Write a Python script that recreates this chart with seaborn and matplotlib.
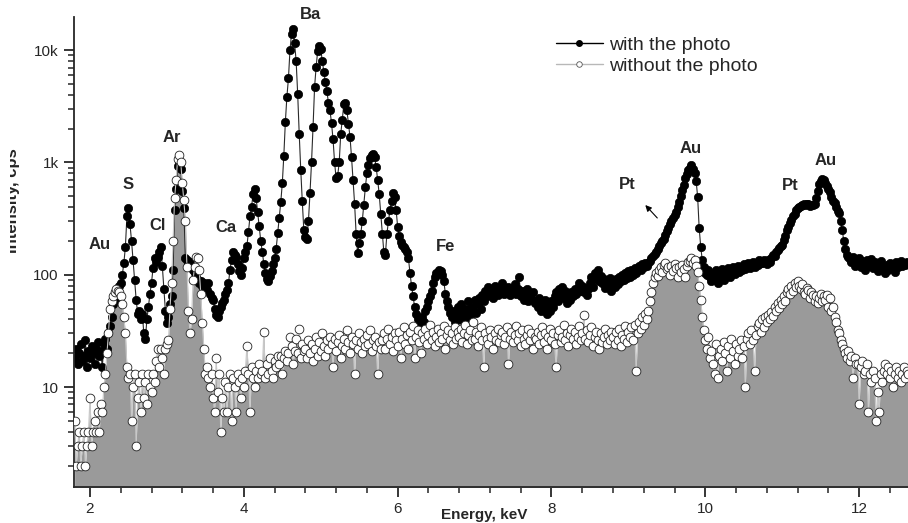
import numpy as np
import pandas as pd
import matplotlib
matplotlib.use("Agg")
import matplotlib.pyplot as plt
import seaborn as sns
from matplotlib.ticker import FixedLocator, FixedFormatter, LogLocator, MultipleLocator, NullFormatter
from matplotlib.lines import Line2D
from matplotlib.patches import Rectangle

# channel energies, keV (20 eV steps from 1.80 to 12.64)
energy = np.round(1.80 + 0.02 * np.arange(543), 2)

# intensity, cps - spectrum taken with the photo
with_photo = [
    18, 22, 16, 20, 24, 17, 19, 26, 15, 21,
    18, 23, 20, 16, 22, 25, 19, 21, 15, 24,
    27, 22, 30, 35, 42, 55, 60, 65, 72, 80,
    85, 100, 126, 177, 330, 393, 280, 200, 135, 90,
    60, 45, 48, 40, 45, 30, 27, 40, 52, 68,
    # 2.80
    85, 115, 140, 130, 145, 160, 176, 120, 75, 48,
    37, 42, 55, 65, 110, 380, 580, 920, 1020, 880,
    560, 390, 140, 135, 128, 130, 118, 110, 104, 95,
    90, 84, 88, 80, 84, 75, 73, 84, 68, 62,
    60, 50, 44, 42, 48, 52, 56, 60, 68, 73,
    # 3.80
    84, 110, 135, 160, 150, 145, 125, 108, 100, 115,
    140, 160, 180, 240, 330, 400, 520, 580, 480, 360,
    270, 200, 160, 125, 104, 92, 88, 98, 108, 125,
    140, 170, 235, 320, 440, 650, 1150, 2300, 3850, 5600,
    10000, 14000, 15300, 11500, 8000, 4100, 1800, 860, 450, 250,
    # 4.80
    215, 210, 300, 530, 1000, 2080, 4700, 7100, 9800, 10800,
    10200, 8000, 6400, 5200, 4300, 3400, 2900, 2240, 1600, 1000,
    720, 760, 1000, 1800, 2400, 3300, 3400, 2900, 2200, 1700,
    1120, 700, 430, 230, 155, 190, 230, 300, 420, 600,
    800, 950, 1100, 1160, 1180, 1120, 910, 700, 520, 350,
    # 5.80
    230, 160, 150, 230, 300, 376, 450, 530, 495, 376,
    267, 220, 195, 185, 178, 170, 160, 140, 104, 80,
    64, 52, 45, 40, 35, 39, 42, 38, 48, 52,
    58, 64, 72, 84, 95, 103, 106, 110, 108, 100,
    88, 68, 58, 52, 46, 42, 48, 38, 45, 52,
    # 6.80
    40, 55, 45, 38, 50, 44, 58, 42, 52, 48,
    60, 46, 55, 62, 50, 66, 58, 72, 64, 78,
    68, 74, 62, 80, 70, 66, 76, 72, 84, 68,
    74, 70, 78, 66, 72, 76, 82, 68, 74, 95,
    64, 72, 60, 68, 74, 58, 66, 62, 70, 56,
    # 7.80
    58, 52, 62, 48, 56, 50, 60, 45, 54, 48,
    58, 52, 64, 70, 58, 74, 66, 78, 62, 72,
    56, 66, 60, 70, 64, 74, 68, 76, 84, 72,
    80, 70, 76, 66, 74, 84, 96, 78, 104, 92,
    110, 88, 98, 84, 92, 76, 88, 80, 94, 72,
    # 8.80
    86, 78, 92, 82, 96, 88, 100, 90, 104, 94,
    108, 96, 110, 100, 114, 104, 112, 120, 110, 124,
    118, 128, 120, 126, 132, 140, 148, 152, 160, 170,
    180, 190, 200, 210, 225, 245, 260, 280, 300, 320,
    340, 360, 400, 440, 500, 570, 630, 720, 790, 860,
    # 9.80
    900, 950, 880, 800, 690, 495, 260, 178, 135, 118,
    104, 100, 110, 95, 88, 102, 96, 110, 84, 104,
    98, 112, 90, 106, 100, 115, 96, 108, 118, 102,
    112, 120, 106, 116, 110, 124, 112, 120, 128, 114,
    124, 130, 118, 126, 122, 134, 128, 126, 136, 132,
    # 10.80
    125, 135, 130, 142, 150, 148, 158, 165, 172, 180,
    184, 205, 220, 250, 265, 290, 310, 330, 350, 375,
    390, 400, 410, 420, 425, 420, 430, 425, 410, 420,
    415, 430, 480, 560, 640, 690, 710, 700, 660, 620,
    580, 540, 490, 450, 433, 400, 370, 355, 300, 250,
    # 11.80
    200, 170, 150, 145, 138, 130, 145, 120, 135, 128,
    140, 118, 132, 125, 110, 135, 128, 120, 138, 115,
    130, 124, 108, 120, 132, 118, 112, 104, 122, 110,
    128, 115, 120, 106, 130, 118, 125, 132, 120, 128,
    122, 130, 126,
]

# intensity, cps - spectrum taken without the photo
without_photo = [
    5, 2, 3, 4, 2, 3, 4, 2, 3, 4,
    8, 3, 4, 5, 4, 6, 4, 7, 6, 10,
    13, 20, 30, 50, 58, 65, 70, 75, 72, 70,
    65, 55, 42, 30, 15, 12, 13, 5, 10, 13,
    3, 8, 11, 6, 13, 8, 11, 7, 13, 10,
    # 2.80
    9, 13, 11, 17, 22, 15, 22, 18, 13, 22,
    24, 26, 50, 84, 200, 480, 700, 1080, 1160, 1010,
    650, 460, 300, 118, 48, 30, 40, 90, 118, 145,
    140, 110, 68, 37, 22, 13, 15, 12, 10, 13,
    8, 6, 18, 9, 13, 4, 8, 6, 11, 6,
    # 3.80
    10, 13, 5, 12, 10, 6, 13, 11, 8, 12,
    10, 14, 23, 13, 6, 15, 12, 10, 14, 12,
    16, 13, 14, 31, 12, 16, 13, 18, 14, 12,
    17, 15, 19, 16, 19, 13, 18, 21, 17, 20,
    28, 23, 16, 21, 27, 20, 33, 18, 24, 21,
    # 4.80
    22, 18, 26, 20, 24, 17, 22, 28, 19, 25,
    21, 30, 23, 19, 26, 22, 28, 24, 15, 27,
    21, 25, 29, 18, 23, 27, 22, 32, 25, 20,
    28, 24, 13, 26, 22, 30, 25, 20, 27, 23,
    29, 24, 32, 21, 26, 28, 23, 13, 25, 22,
    # 5.80
    26, 30, 22, 27, 33, 24, 28, 21, 30, 26,
    23, 31, 18, 27, 34, 24, 29, 22, 31, 26,
    35, 18, 28, 32, 25, 20, 30, 27, 33, 24,
    29, 36, 26, 31, 23, 28, 33, 25, 30, 27,
    35, 22, 29, 32, 26, 30, 24, 34, 27, 31,
    # 6.80
    28, 33, 25, 30, 36, 24, 29, 32, 26, 38,
    27, 31, 23, 29, 34, 26, 15, 30, 27, 24,
    32, 28, 22, 30, 26, 33, 25, 29, 31, 24,
    28, 34, 16, 27, 31, 25, 29, 35, 26, 30,
    23, 32, 27, 24, 29, 33, 26, 30, 22, 28,
    # 7.80
    27, 31, 24, 29, 34, 25, 30, 22, 28, 33,
    26, 30, 24, 15, 29, 32, 25, 28, 36, 26,
    30, 23, 29, 33, 27, 31, 24, 28, 35, 26,
    30, 44, 27, 32, 25, 29, 34, 23, 28, 31,
    26, 22, 30, 25, 28, 33, 24, 29, 26, 31,
    # 8.80
    28, 24, 31, 26, 33, 23, 29, 27, 35, 25,
    31, 28, 34, 26, 36, 14, 30, 38, 33, 42,
    36, 45, 40, 48, 58, 70, 84, 95, 103, 98,
    110, 118, 105, 122, 126, 112, 118, 100, 120, 108,
    125, 115, 95, 118, 105, 122, 112, 96, 120, 130,
    # 9.80
    132, 140, 128, 135, 120, 106, 80, 60, 42, 32,
    26, 22, 28, 18, 21, 16, 13, 24, 12, 19,
    22, 17, 25, 20, 14, 23, 18, 27, 21, 16,
    24, 19, 22, 26, 18, 23, 10, 27, 30, 24,
    32, 26, 14, 29, 35, 37, 31, 40, 34, 42,
    # 10.80
    38, 44, 40, 47, 43, 52, 48, 56, 51, 60,
    55, 64, 58, 70, 75, 68, 80, 72, 84, 78,
    88, 80, 74, 82, 70, 68, 76, 73, 62, 70,
    66, 58, 64, 56, 62, 68, 58, 64, 60, 66,
    52, 62, 48, 52, 42, 38, 32, 30, 26, 24,
    # 11.80
    22, 20, 18, 21, 17, 19, 12, 18, 16, 16,
    7, 15, 17, 13, 14, 16, 6, 13, 11, 14,
    12, 5, 9, 6, 13, 11, 14, 16, 13, 15,
    12, 14, 10, 13, 15, 12, 14, 11, 13, 15,
    12, 14, 13,
]

series_names = ["with the photo", "without the photo"]
y_ticks = [10, 100, 1000, 10000]
y_tick_labels = ["10", "100", "1k", "10k"]

# element labels over the peaks
peak_names = ["Au", "S", "Cl", "Ar", "Ca", "Ba", "Fe", "Pt", "Au", "Pt", "Au"]

df = pd.DataFrame({"energy": energy, "with": with_photo, "without": without_photo})

sns.set_style("ticks")
plt.rcParams["font.family"] = ["Liberation Sans", "DejaVu Sans"]

fig = plt.figure(figsize=(9.08, 5.23), dpi=100)
ax = fig.add_axes([74 / 908, 36 / 523, 834 / 908, 470 / 523])

ax.fill_between(df["energy"], df["without"], 1, color="#9a9a9a", linewidth=0, zorder=1)
sns.lineplot(data=df, x="energy", y="with", ax=ax, color="#2a2a2a", linewidth=0.8,
             marker="o", markersize=6, markerfacecolor="black",
             markeredgecolor="black", markeredgewidth=0.5, zorder=2)
sns.lineplot(data=df, x="energy", y="without", ax=ax, color="#c8c8c8", linewidth=0.8,
             marker="o", markersize=6.3, markerfacecolor="white",
             markeredgecolor="#222222", markeredgewidth=0.6, zorder=3)

ax.set_yscale("log")
ax.set_ylim(1.287, 19720)
ax.set_xlim(1.792, 12.635)
ax.yaxis.set_major_locator(FixedLocator(y_ticks))
ax.yaxis.set_major_formatter(FixedFormatter(y_tick_labels))
ax.yaxis.set_minor_locator(LogLocator(base=10, subs=np.arange(2, 10) * 1.0, numticks=20))
ax.yaxis.set_minor_formatter(NullFormatter())
ax.xaxis.set_major_locator(MultipleLocator(2))
ax.xaxis.set_minor_locator(MultipleLocator(0.4))
ax.tick_params(which="major", direction="out", length=7, width=1.3, labelsize=11, pad=4)
ax.tick_params(which="minor", direction="out", length=4, width=1.1)
ax.set_xlabel("")
ax.set_ylabel("")
for side in ["top", "right"]:
    ax.spines[side].set_visible(False)
for side in ["left", "bottom"]:
    ax.spines[side].set_linewidth(1.3)

label_pos = [(2.13, 184), (2.50, 630), (2.88, 272), (3.06, 1680), (3.77, 261),
             (4.87, 20900), (6.62, 180), (8.99, 630), (9.81, 1343), (11.10, 617),
             (11.56, 1050)]
for name, (ex, iy) in zip(peak_names, label_pos):
    ax.text(ex, iy, name, ha="center", va="center", fontsize=12,
            fontweight="bold", clip_on=False, zorder=5)
ax.annotate("", xy=(9.195, 435), xytext=(9.40, 307),
            arrowprops=dict(arrowstyle="-|>", color="black", lw=0.8, mutation_scale=9))

h1 = Line2D([], [], color="black", lw=1, marker="o", markersize=4,
            markerfacecolor="black", markeredgecolor="black")
h2 = Line2D([], [], color="#b8b8b8", lw=1, marker="o", markersize=4,
            markerfacecolor="white", markeredgecolor="#555555", markeredgewidth=0.6)
fig.legend(handles=[h1, h2], labels=series_names, loc="upper left",
           bbox_to_anchor=(556 / 908, 1 - 36 / 523), frameon=False, fontsize=14,
           handlelength=2.4, handletextpad=0.35, labelspacing=0.2,
           borderpad=0, borderaxespad=0)

fig.text(484 / 908, 1 - 515 / 523, "Energy, keV", ha="center", va="center",
         fontsize=11, fontweight="bold",
         family=["Liberation Sans Narrow", "Liberation Sans", "DejaVu Sans"])
fig.text(13 / 908, 1 - 201 / 523, "Intensity, cps", rotation=90, ha="center",
         va="center", fontsize=12, fontweight="bold")
# the left strip of the original is blank and cuts the axis title
fig.add_artist(Rectangle((0, 0), 10 / 908, 1, transform=fig.transFigure,
                         facecolor="white", edgecolor="none", zorder=10))

fig.savefig("out.png", dpi=100)
